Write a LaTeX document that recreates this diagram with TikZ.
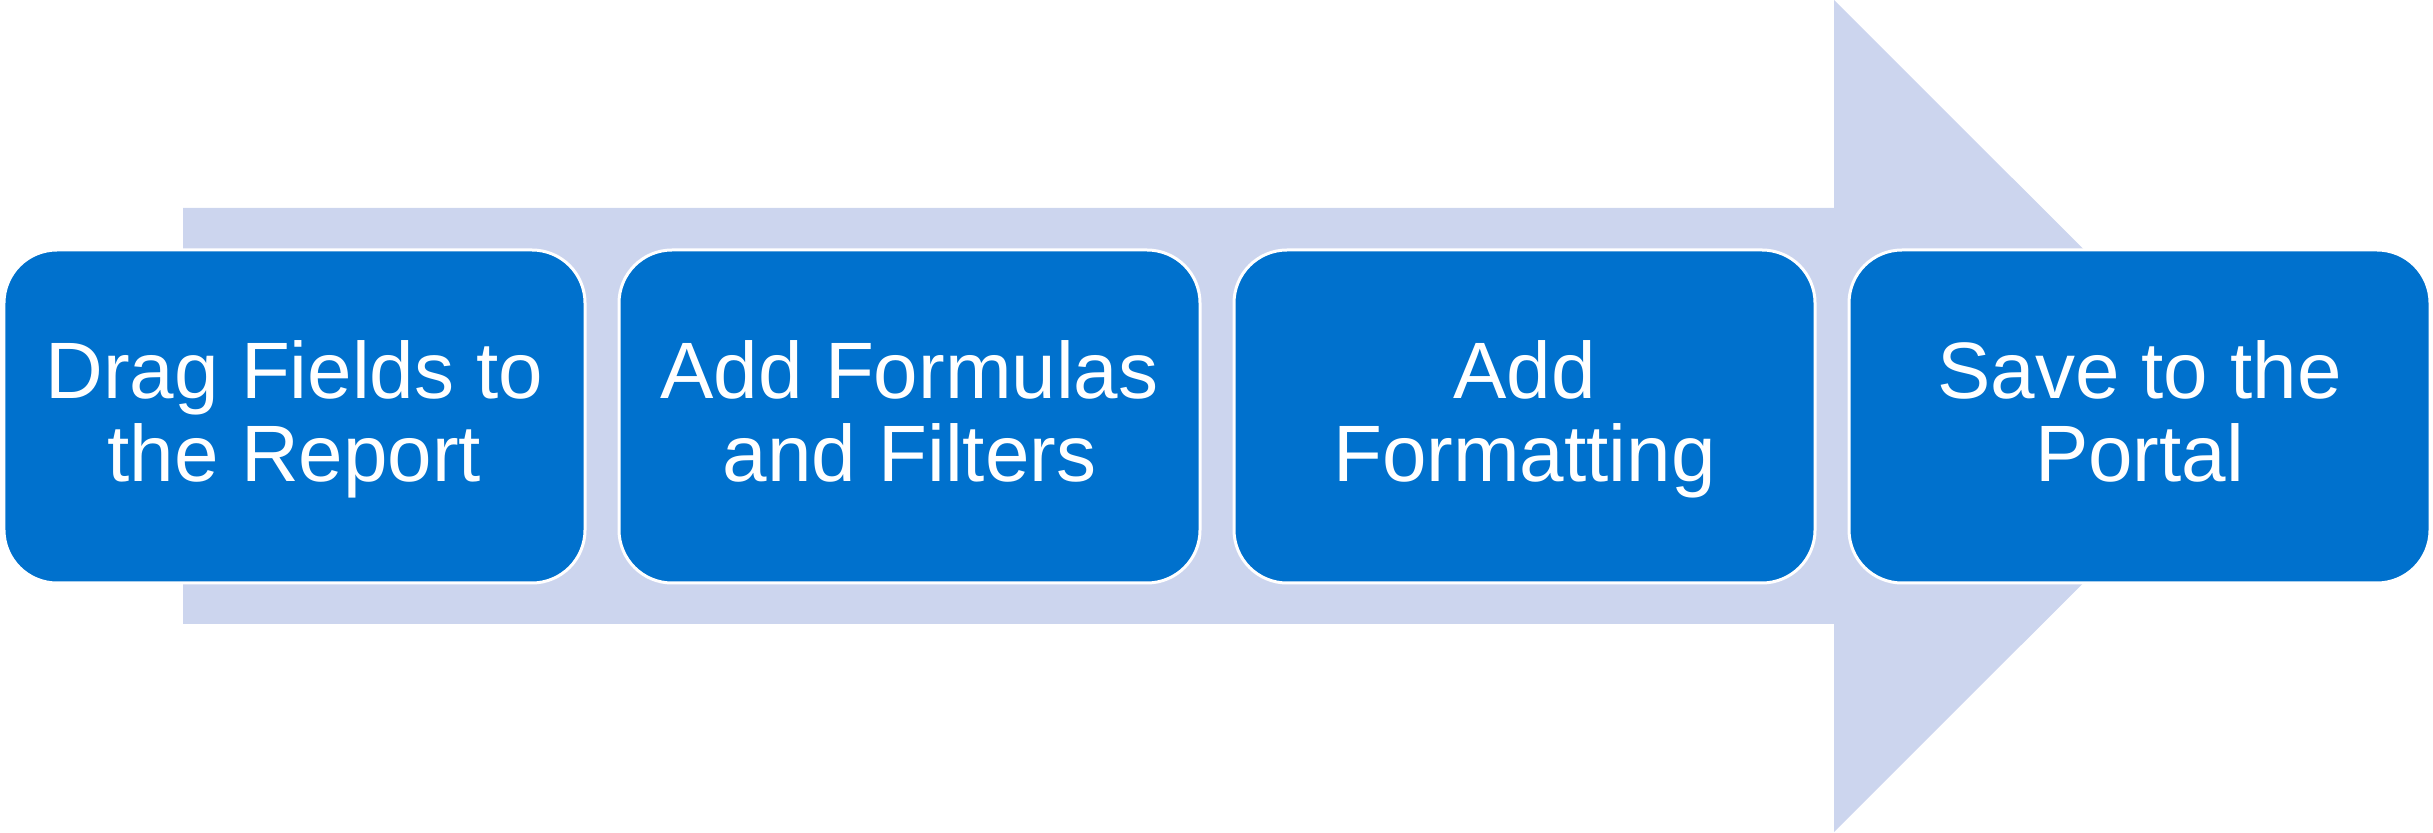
\documentclass[tikz,border=0pt]{standalone}
\usepackage{fontspec}
\setmainfont{Liberation Sans}
\definecolor{boxblue}{RGB}{0,113,205}
\definecolor{arrowfill}{RGB}{204,213,238}
\newcommand\steptext[2]{\parbox[c][151bp][t]{570bp}{\centering\rule{0pt}{58bp}#1\\#2}}
\begin{document}
\begin{tikzpicture}[x=1bp,y=1bp,
  stepbox/.style={draw=white, line width=3bp, fill=boxblue, rounded corners=53bp,
    minimum width=581bp, minimum height=333bp, inner sep=0pt, text=white,
    font=\fontsize{80bp}{83bp}\selectfont},
  bigarrow/.style={fill=arrowfill}]
\useasboundingbox (0,0) rectangle (2433,832);
\fill[bigarrow] (183,208) -- (1834,208) -- (1834,0) -- (2250.5,416) -- (1834,832) -- (1834,624) -- (183,624) -- cycle;
\node[stepbox] (s1) at (294.5,415.5) {\steptext{Drag Fields to}{the Report}};
\node[stepbox] (s2) at (909.5,415.5) {\steptext{Add Formulas}{and Filters}};
\node[stepbox] (s3) at (1524.5,415.5) {\steptext{Add}{Formatting}};
\node[stepbox] (s4) at (2139.5,415.5) {\steptext{Save to the}{Portal}};
\end{tikzpicture}
\end{document}
